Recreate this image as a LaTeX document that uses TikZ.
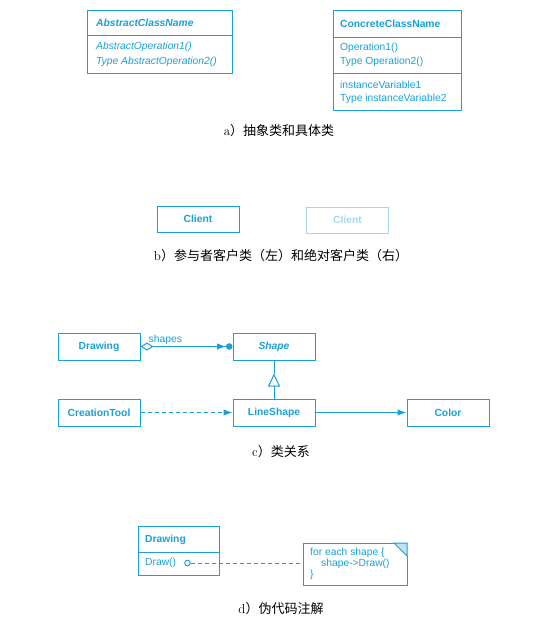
\documentclass[tikz,border=0pt]{standalone}
\usepackage{fontspec}
\newfontfamily\umlf{Liberation Sans}
\newfontfamily\cjk{Noto Sans CJK SC}
\usetikzlibrary{arrows.meta}
\definecolor{umlblue}{RGB}{25,160,215}
\definecolor{umlfaint}{RGB}{165,215,235}
\definecolor{notefill}{RGB}{190,228,243}
\begin{document}
\begin{tikzpicture}[x=1pt,y=-1pt,
  box/.style={draw=umlblue, line width=1pt, inner sep=0pt, anchor=north west},
  cls/.style={draw=umlblue, line width=1pt, minimum width=82pt, minimum height=27pt, inner sep=0pt,
    font=\umlf\bfseries\fontsize{10.3}{12}\selectfont, text=umlblue},
  txt/.style={anchor=west, inner sep=0pt, font=\umlf\fontsize{10.3}{12}\selectfont, text=umlblue},
  btxt/.style={txt, font=\umlf\bfseries\fontsize{10.3}{12}\selectfont},
  itxt/.style={txt, font=\umlf\itshape\fontsize{10.3}{12}\selectfont},
  bitxt/.style={txt, font=\umlf\bfseries\itshape\fontsize{10.3}{12}\selectfont},
  captxt/.style={inner sep=0pt, text=black, font=\cjk\fontsize{13}{15}\selectfont},
  conn/.style={draw=umlblue, line width=1pt},
  tip/.style={-{Latex[length=9pt,width=6.5pt]}}
]
\path[use as bounding box] (0,0) rectangle (535,631);

% ---------- a) ----------
\node[box, minimum width=145pt, minimum height=63pt] (abs) at (87,10) {};
\draw[conn] ([yshift=-26pt]abs.north west) -- ([yshift=-26pt]abs.north east);
\node[bitxt] (absname) at (96,23) {AbstractClassName};
\node[itxt] (absop1) at (96,47) {AbstractOperation1()};
\node[itxt] (absop2) at (96,62) {Type AbstractOperation2()};

\node[box, minimum width=128pt, minimum height=100pt] (con) at (333,10) {};
\draw[conn] ([yshift=-28pt]con.north west) -- ([yshift=-28pt]con.north east);
\draw[conn] ([yshift=-64pt]con.north west) -- ([yshift=-64pt]con.north east);
\node[btxt] (conname) at (340,24) {ConcreteClassName};
\node[txt] (conop1) at (340,48) {Operation1()};
\node[txt] (conop2) at (340,62) {Type Operation2()};
\node[txt] (convar1) at (340,85) {instanceVariable1};
\node[txt] (convar2) at (340,99) {Type instanceVariable2};

\node[captxt] (capa) at (279,131) {{\rmfamily a}）抽象类和具体类};

% ---------- b) ----------
\node[cls, minimum height=26pt] (client) at (198,219) {Client};
\node[cls, minimum height=26pt, draw=umlfaint, text=umlfaint] (client2) at (347.5,220) {Client};
\node[captxt] (capb) at (281,256) {{\rmfamily b}）参与者客户类（左）和绝对客户类（右）};

% ---------- c) ----------
\node[cls] (drawing) at (99,346.5) {Drawing};
\node[cls, font=\umlf\bfseries\itshape\fontsize{10.3}{12}\selectfont] (shape) at (274,346.5) {Shape};
\node[cls] (ctool) at (99,412.5) {CreationTool};
\node[cls] (lshape) at (274,412.5) {LineShape};
\node[cls] (color) at (448,412.5) {Color};

\draw[conn, {Diamond[open,length=13pt,width=8pt]}-{Latex[length=9pt,width=6.5pt] Circle[length=6.5pt,width=6.5pt]}]
  (drawing.east) -- (shape.west) node[pos=0.27, above=0pt, inner sep=1pt, font=\umlf\fontsize{10.3}{12}\selectfont, text=umlblue] (shlabel) {shapes};
\draw[conn, -{Triangle[open,length=13pt,width=12pt]}] (lshape.north) -- ([yshift=-13pt]shape.south) coordinate (tritip);
\draw[conn] (tritip) -- (shape.south);
\draw[conn, tip, dashed, dash pattern=on 4pt off 3pt] (ctool.east) -- (lshape.west);
\draw[conn, tip] (lshape.east) -- (color.west);

\node[captxt] (capc) at (281,452) {{\rmfamily c}）类关系};

% ---------- d) ----------
\node[box, minimum width=81pt, minimum height=49pt] (drw) at (138,526) {};
\draw[conn] ([yshift=-26pt]drw.north west) -- ([yshift=-26pt]drw.north east);
\node[btxt] (drwname) at (145,540) {Drawing};
\node[txt] (drwop) at (145,563) {Draw()};
\node[draw=umlblue, line width=1pt, circle, minimum size=5.5pt, inner sep=0pt] (dot) at (187.5,563) {};

\coordinate (n1) at (303,543);
\coordinate (n2) at (394,543);
\coordinate (n3) at (407,543);
\coordinate (n4) at (407,556);
\coordinate (n5) at (407,585);
\coordinate (n6) at (303,585);
\draw[conn, fill=notefill] (n2) -- (n3) -- (n4) -- cycle;
\draw[conn] (n2) -- (n1) -- (n6) -- (n5) -- (n4);
\coordinate (notew) at (303,563);
\draw[conn, dashed, dash pattern=on 4pt off 3pt] (dot.east) -- (notew);
\node[txt] (nt1) at (310,553) {for each shape \{};
\node[txt] (nt2) at (321,564) {shape->Draw()};
\node[txt] (nt3) at (310,575) {\}};

\node[captxt] (capd) at (281,609) {{\rmfamily d}）伪代码注解};
\end{tikzpicture}
\end{document}
